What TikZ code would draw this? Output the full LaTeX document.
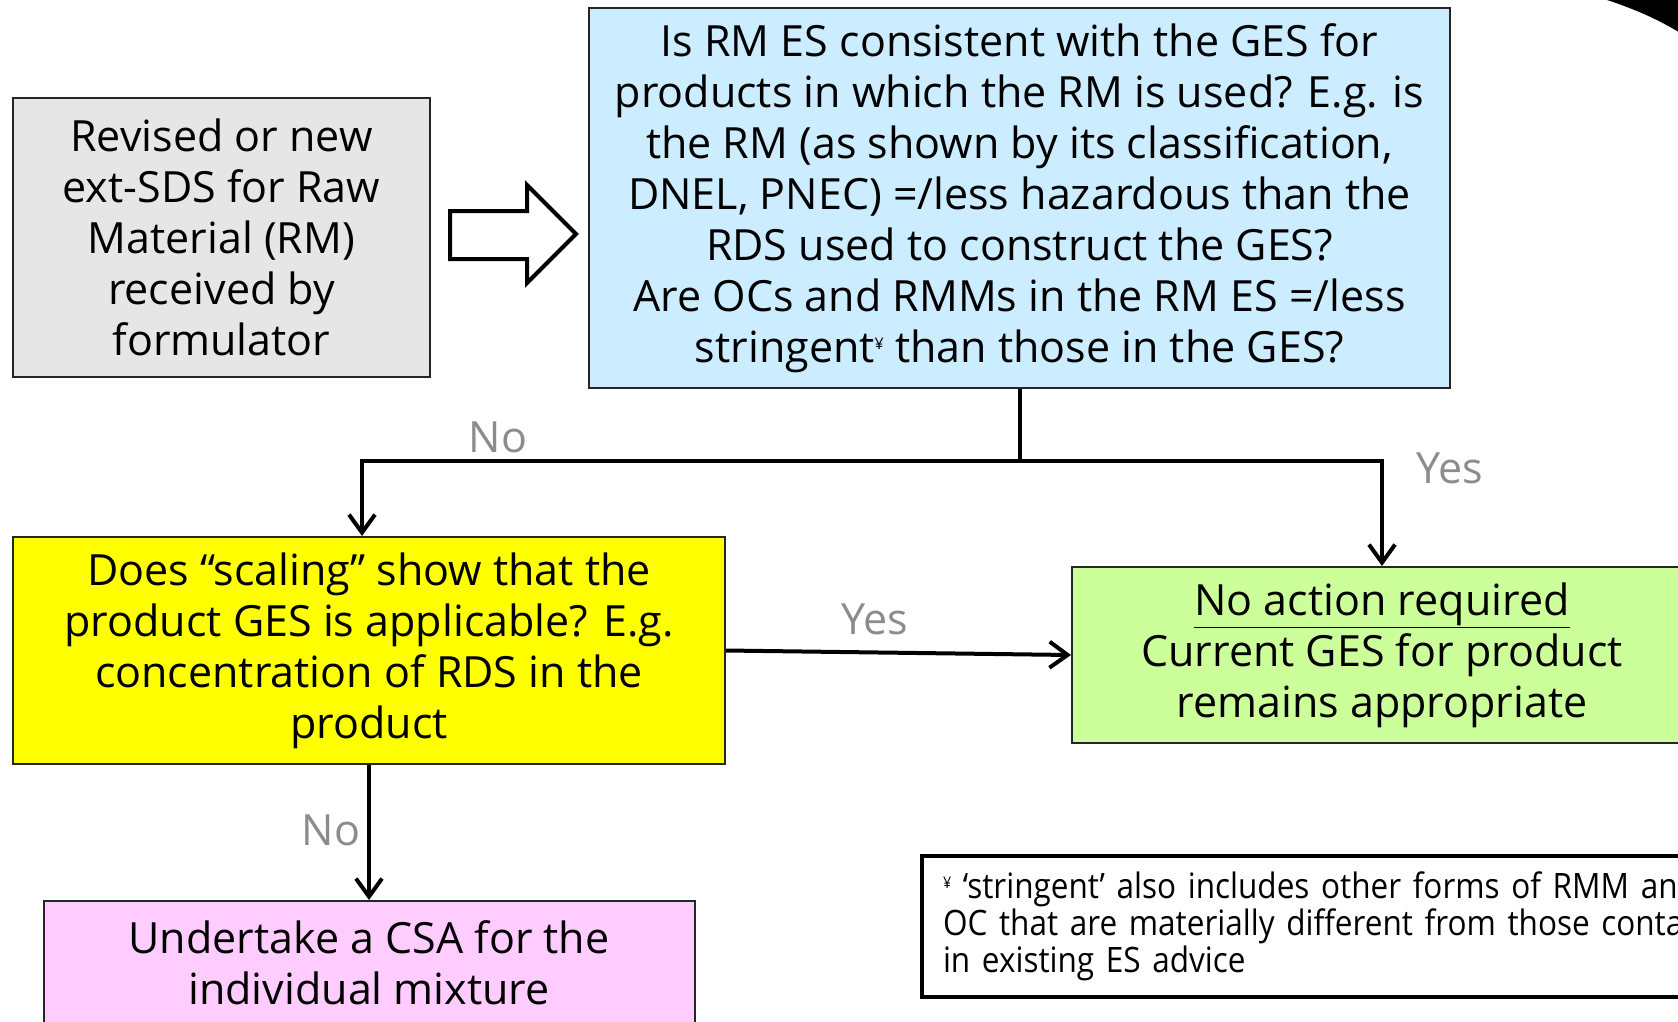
\documentclass[tikz,border=0pt]{standalone}
\usepackage{fontspec}
\setmainfont{Open Sans}
\newfontfamily\notefont[FakeStretch=0.9]{Open Sans}
\usepackage{tikz}
\usetikzlibrary{positioning, arrows.meta}
\definecolor{rmgray}{HTML}{E6E6E6}
\definecolor{rmblue}{HTML}{CCECFF}
\definecolor{rmyellow}{HTML}{FFFF00}
\definecolor{rmgreen}{HTML}{CCFF99}
\definecolor{rmpink}{HTML}{FFCCFF}
\definecolor{rmlabel}{HTML}{8C8C8C}
\newcommand{\mainsize}{\fontsize{43}{51}\selectfont}
\newcommand{\notesize}{\notefont\fontsize{35}{37}\selectfont}
\newcommand{\ymark}{\raisebox{0.55ex}{\fontsize{16}{16}\selectfont ¥}}
\tikzset{
    box/.style={draw=black!85, line width=2pt, align=center, inner sep=0pt, font=\mainsize}, % every coloured box
    flow/.style={line width=4pt, -{Straight Barb[length=18pt, width=26pt, line width=4pt]}}, % the connectors
    answer/.style={text=rmlabel, font=\mainsize}, % Yes / No
}
\begin{document}
\begin{tikzpicture}[x=1pt, y=-1pt]
    \useasboundingbox (0,0) rectangle (1678,1021);
    \clip (0,0) rectangle (1678,1021);
    \fill (1601,-2) .. controls (1632,8) and (1656,18) .. (1682,34) -- (1682,-2) -- cycle;
    \node[box, fill=rmgray, minimum width=417pt, minimum height=279pt] (received) at (221.5,237.5)
        {Revised or new\\ext-SDS for Raw\\Material (RM)\\received by\\formulator};
    \node[box, fill=rmblue, minimum width=861pt, minimum height=380pt] (consistent) at (1019.5,198)
        {Is RM ES consistent with the GES for\\products in which the RM is used? E.g. is\\the RM (as shown by its classification,\\DNEL, PNEC) =/less hazardous than the\\RDS used to construct the GES?\\Are OCs and RMMs in the RM ES =/less\\stringent\ymark{} than those in the GES?};
    \node[box, fill=rmyellow, minimum width=712pt, minimum height=227pt] (scaling) at (369,650.5)
        {Does “scaling” show that the\\product GES is applicable? E.g.\\concentration of RDS in the\\product};
    \node[box, fill=rmgreen, minimum width=620pt, minimum height=176pt] (noaction) at (1382,655)
        {\underline{No action required}\\Current GES for product\\remains appropriate};
    \node[box, fill=rmpink, minimum width=651pt, minimum height=124pt, below=135pt of scaling] (csa)
        {Undertake a CSA for the\\individual mixture};
    \node[draw, line width=4pt, anchor=north west, minimum height=141pt, text width=1000pt,
        inner xsep=21pt, align=left, font=\notesize] (note) at (920,854)
        {\ymark{} ‘stringent’ also includes other forms of RMM and\\OC that are materially different from those contained\\in existing ES advice};
    % hollow block arrow
    \draw[line width=4pt, fill=white] (450,211) -- (527,211) -- (527,185) -- (576,234)
        -- (527,283) -- (527,259) -- (450,259) -- cycle;
    \coordinate (split) at (consistent.south |- 0,461);
    \draw[flow] (consistent.south) -- (split) -| ([xshift=-7pt]scaling.north);
    \draw[flow] (split) -| (noaction.north);
    \draw[flow] (scaling.east) -- (noaction.west);
    \draw[flow] (scaling.south) -- (csa.north);
    \node[answer] (noA) at (498,437) {No};
    \node[answer] (yesA) at (1450,468) {Yes};
    \node[answer] (yesB) at (875,619) {Yes};
    \node[answer] (noB) at (331,830) {No};
\end{tikzpicture}
\end{document}
